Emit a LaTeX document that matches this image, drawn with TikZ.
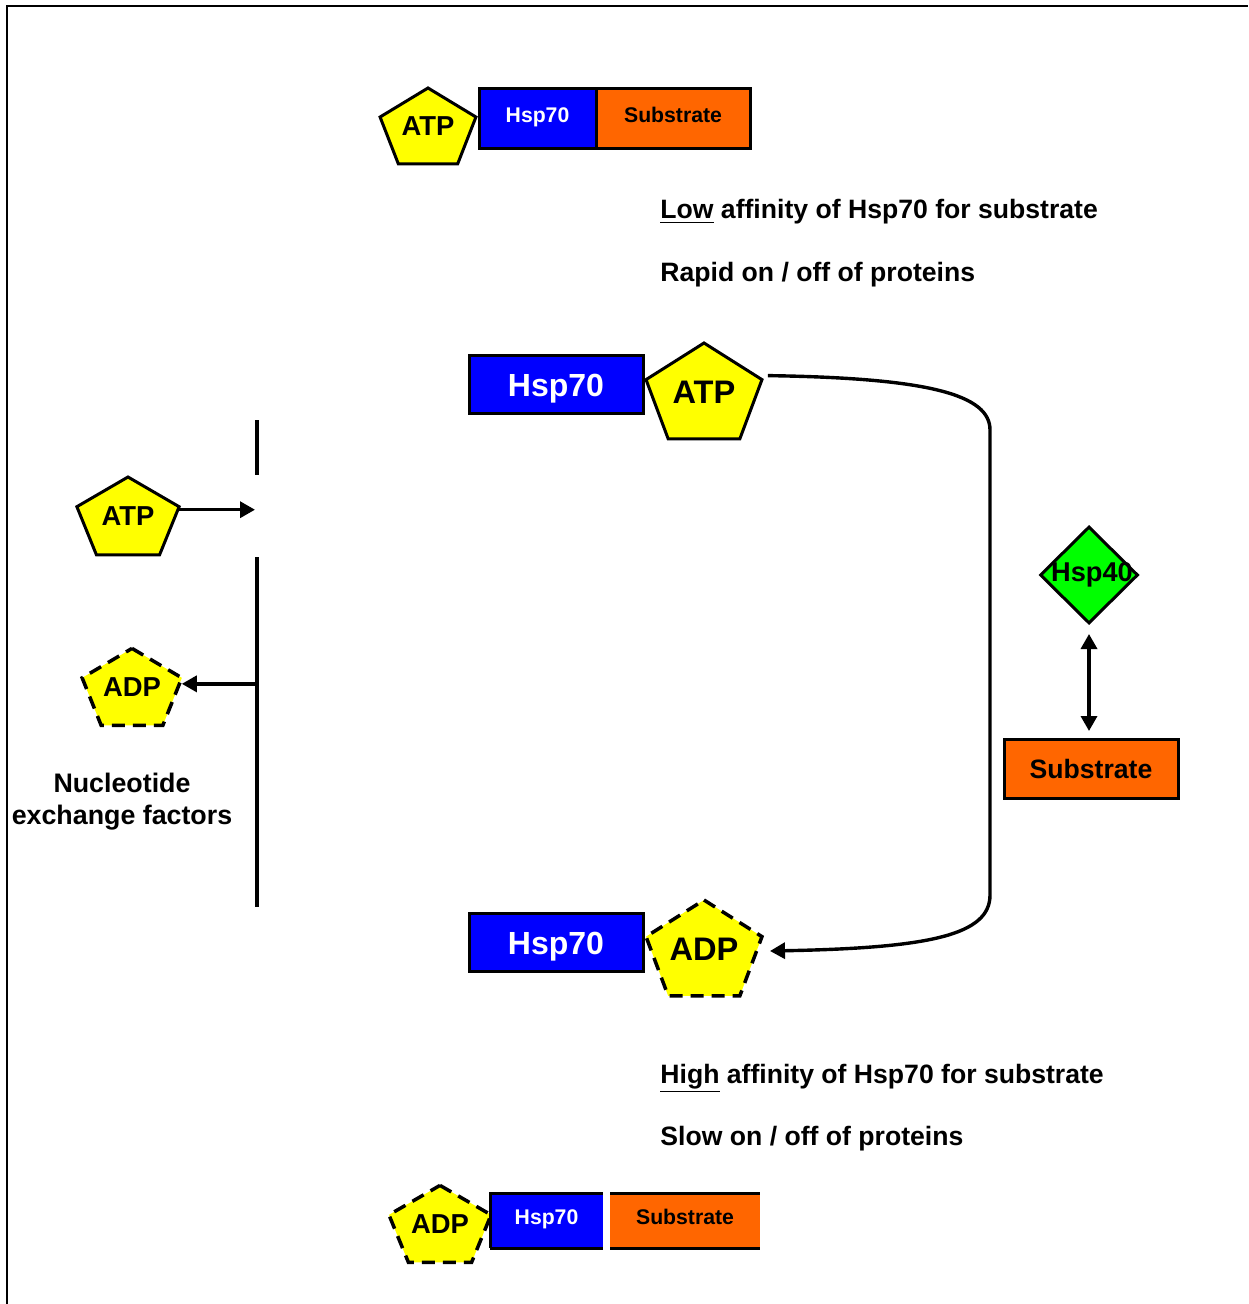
\documentclass[tikz,border=0pt]{standalone}
\usepackage{fontspec}
\setmainfont{Liberation Sans}
\usetikzlibrary{positioning,shapes.geometric,arrows.meta,calc}
\definecolor{HspBlue}{HTML}{0000FF}
\definecolor{SubOrange}{HTML}{FF6600}
\definecolor{NucYellow}{HTML}{FFFF00}
\definecolor{HspGreen}{HTML}{00FF00}
% pentagon: [style]{name}{centre}{radius}{xscale}{text}
\newcommand{\nucleotide}[6][]{%
  \path[nucshape, #1, shift={#3}, xscale=#5] (270:#4) -- (342:#4) -- (54:#4) -- (126:#4) -- (198:#4) -- cycle;
  \node[nuclabel, #1] (#2) at ($#3+(0,-4)$) {#6};
  \coordinate (#2-r) at ($#3+(#5*#4*0.951,-#4*0.309)$);
}

\begin{document}
\begin{tikzpicture}[
        x=0.5pt, y=-0.5pt,
        nucshape/.style={draw, fill=NucYellow, line width=1.5pt},
        nuclabel/.style={inner sep=0pt, font=\fontsize{13.7}{16}\selectfont\bfseries},
        adp/.style={dash pattern=on 6.5pt off 4pt, line width=1.75pt},
        big/.style={font=\fontsize{16.3}{19}\selectfont\bfseries},
        hspbox/.style={
            rectangle, draw, line width=1.5pt, outer sep=0pt,
            fill=HspBlue, text=white, inner sep=0pt,
            text height=8pt, text depth=4pt,
            font=\fontsize{10.6}{12}\selectfont\bfseries
        },
        subbox/.style={
            rectangle, draw, line width=1.5pt, outer sep=0pt,
            fill=SubOrange, inner sep=0pt,
            text height=8pt, text depth=4pt,
            font=\fontsize{10.6}{12}\selectfont\bfseries
        },
        bigbox/.style={text height=12pt, text depth=0pt, font=\fontsize{16}{19}\selectfont\bfseries},
        note/.style={anchor=base west, inner sep=0pt, font=\fontsize{13.3}{15}\selectfont\bfseries},
        arrow/.style={-{Triangle[length=7.5pt,width=8pt]}, line width=1.7pt},
        dblarrow/.style={{Triangle[length=7.5pt,width=8pt]}-{Triangle[length=7.5pt,width=8pt]}, line width=1.7pt},
        bar/.style={line width=2.3pt}
    ]
    \useasboundingbox (0,0) rectangle (1248,1304);
    \draw[line width=1pt] (7,1304) -- (7,6) -- (1248,6);

    % top complex
    \nucleotide{atpA}{(428,130)}{42}{1.2}{ATP}
    \node[hspbox, minimum width=58.5pt, minimum height=30pt] (hspA) at (537.5,119) {Hsp70};
    \node[subbox, minimum width=77pt, minimum height=30pt, right=0pt of hspA] (subA) {Substrate};
    \node[note] (lowA) at (660,219) {\underline{Low} affinity of Hsp70 for substrate};
    \node[note] (lowB) at (660,282) {Rapid on / off of proteins};

    % cycle
    \node[hspbox, bigbox, minimum width=87pt, minimum height=29pt] (hspB) at (556,385) {Hsp70};
    \nucleotide[big]{atpM}{(704,396)}{53}{1.15}{ATP}
    \node[hspbox, bigbox, minimum width=87pt, minimum height=29pt] (hspC) at (556,942) {Hsp70};
    \nucleotide[big, adp]{adpM}{(704,953)}{53}{1.15}{ADP}
    \coordinate (arcTop) at (990,430);
    \coordinate (arcBot) at (990,895);
    \coordinate (adpM-in) at (770,951);
    \draw[arrow] ($(atpM-r)+(6,-4)$) .. controls (930,378) and (990,395) .. (arcTop)
        -- (arcBot) .. controls (990,935) and (930,948) .. (adpM-in);

    % Hsp40 and substrate
    \node[diamond, draw, fill=HspGreen, line width=1.5pt, inner sep=0pt,
        minimum width=49pt, minimum height=48.5pt,
        label={[font=\fontsize{13.6}{16}\selectfont\bfseries, xshift=1.5pt]center:Hsp40}] (hsp40) at (1089,575) {};
    \node[subbox, minimum width=87pt, minimum height=29.5pt, text height=10pt, text depth=0pt, font=\fontsize{13.3}{15}\selectfont\bfseries] (subR) at (1091,768.5) {Substrate};
    \draw[dblarrow, shorten <=4.5pt, shorten >=4pt] (hsp40.south) -- (subR.north -| hsp40.south);

    % nucleotide exchange
    \coordinate (barA) at (257,420);
    \coordinate (barB) at (257,475);
    \coordinate (barC) at (257,557);
    \coordinate (barD) at (257,907);
    \draw[bar] (barA) -- (barB);
    \draw[bar] (barC) -- (barD);
    \nucleotide{atpL}{(128,520)}{43}{1.25}{ATP}
    \nucleotide[adp]{adpL}{(132,691)}{42.6}{1.23}{ADP}
    \draw[arrow] ($(atpL-r)+(0,3)$) -- ($(atpL-r -| barA)+(-2,3)$);
    \draw[arrow] ($(adpL-r -| barC)+(0,6)$) -- ($(adpL-r)+(0,6)$);
    \node[align=center, inner sep=0pt, font=\fontsize{13.4}{16}\selectfont\bfseries] (nef) at (122,802) {Nucleotide\\exchange factors};

    % bottom complex
    \nucleotide[adp]{adpB}{(440,1228)}{42.6}{1.26}{ADP}
    \node[hspbox, draw=none, minimum width=56.5pt, minimum height=27.5pt] (hspD) at (546.5,1220.5) {Hsp70};
    \node[subbox, draw=none, minimum width=75pt, minimum height=27.5pt] (subD) at (685,1220.5) {Substrate};
    \draw[line width=1.5pt] (hspD.south west) -- (hspD.north west) -- (hspD.north east);
    \draw[line width=1.5pt] (hspD.south west) -- (hspD.south east);
    \draw[line width=1.5pt] (subD.north west) -- (subD.north east);
    \draw[line width=1.5pt] (subD.south west) -- (subD.south east);
    \node[note] (highA) at (660,1083) {\underline{High} affinity of Hsp70 for substrate};
    \node[note] (highB) at (660,1145) {Slow on / off of proteins};
\end{tikzpicture}
\end{document}
